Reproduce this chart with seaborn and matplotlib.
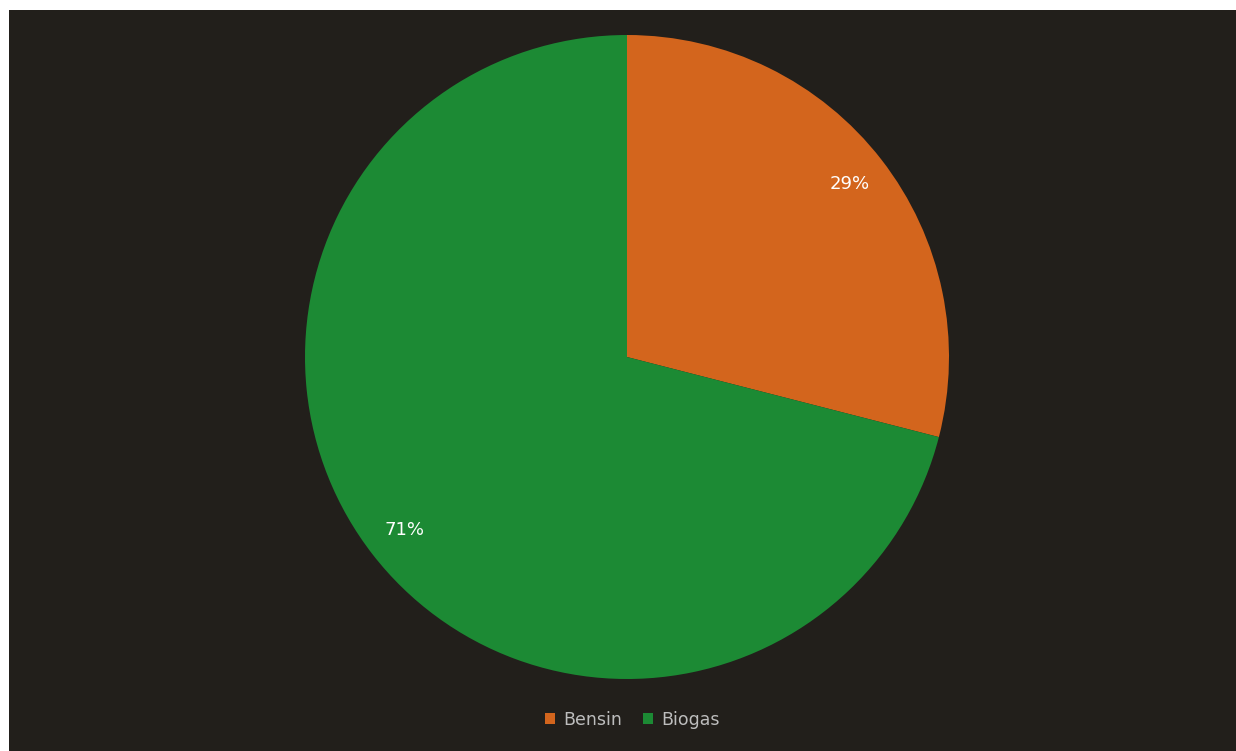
import matplotlib
matplotlib.use("Agg")
import matplotlib.pyplot as plt
import seaborn as sns

# data
labels = ['Bensin', 'Biogas']
shares = [29, 71]
colors = ['#d3651d', '#1c8a34']

sns.set_theme(style='dark')
plt.rcParams['font.family'] = ['DejaVu Sans']

fig = plt.figure(figsize=(12.36, 7.51), dpi=100, facecolor='white')

# dark panel (leaves a thin white margin on the top and left)
bg = fig.add_axes([9 / 1236, 0, 1 - 9 / 1236, 1 - 10 / 751])
bg.set_facecolor('#221f1b')
bg.set_xticks([])
bg.set_yticks([])
for s in bg.spines.values():
    s.set_visible(False)

# pie axes, placed so the disc sits where it does in the reference
ax = fig.add_axes([305 / 1236, (751 - 679) / 751, 644 / 1236, 644 / 751])
ax.set_facecolor('none')
wedges, texts, autotexts = ax.pie(
    shares, colors=colors, startangle=90, counterclock=False,
    autopct='%d%%', pctdistance=0.875,
    textprops={'color': 'white', 'fontsize': 13},
    wedgeprops={'linewidth': 0})
ax.set_aspect('equal')
ax.set_xlim(-1, 1)
ax.set_ylim(-1, 1)
ax.axis('off')

leg = fig.legend(wedges, labels, loc='center', bbox_to_anchor=(632 / 1236, 1 - 720 / 751),
                 ncol=2, frameon=False, fontsize=12.5, handlelength=0.6, handleheight=0.6,
                 handletextpad=0.45, columnspacing=1.2)
for t in leg.get_texts():
    t.set_color('#bdbdbd')

fig.savefig('out.png', dpi=100, facecolor='white')
